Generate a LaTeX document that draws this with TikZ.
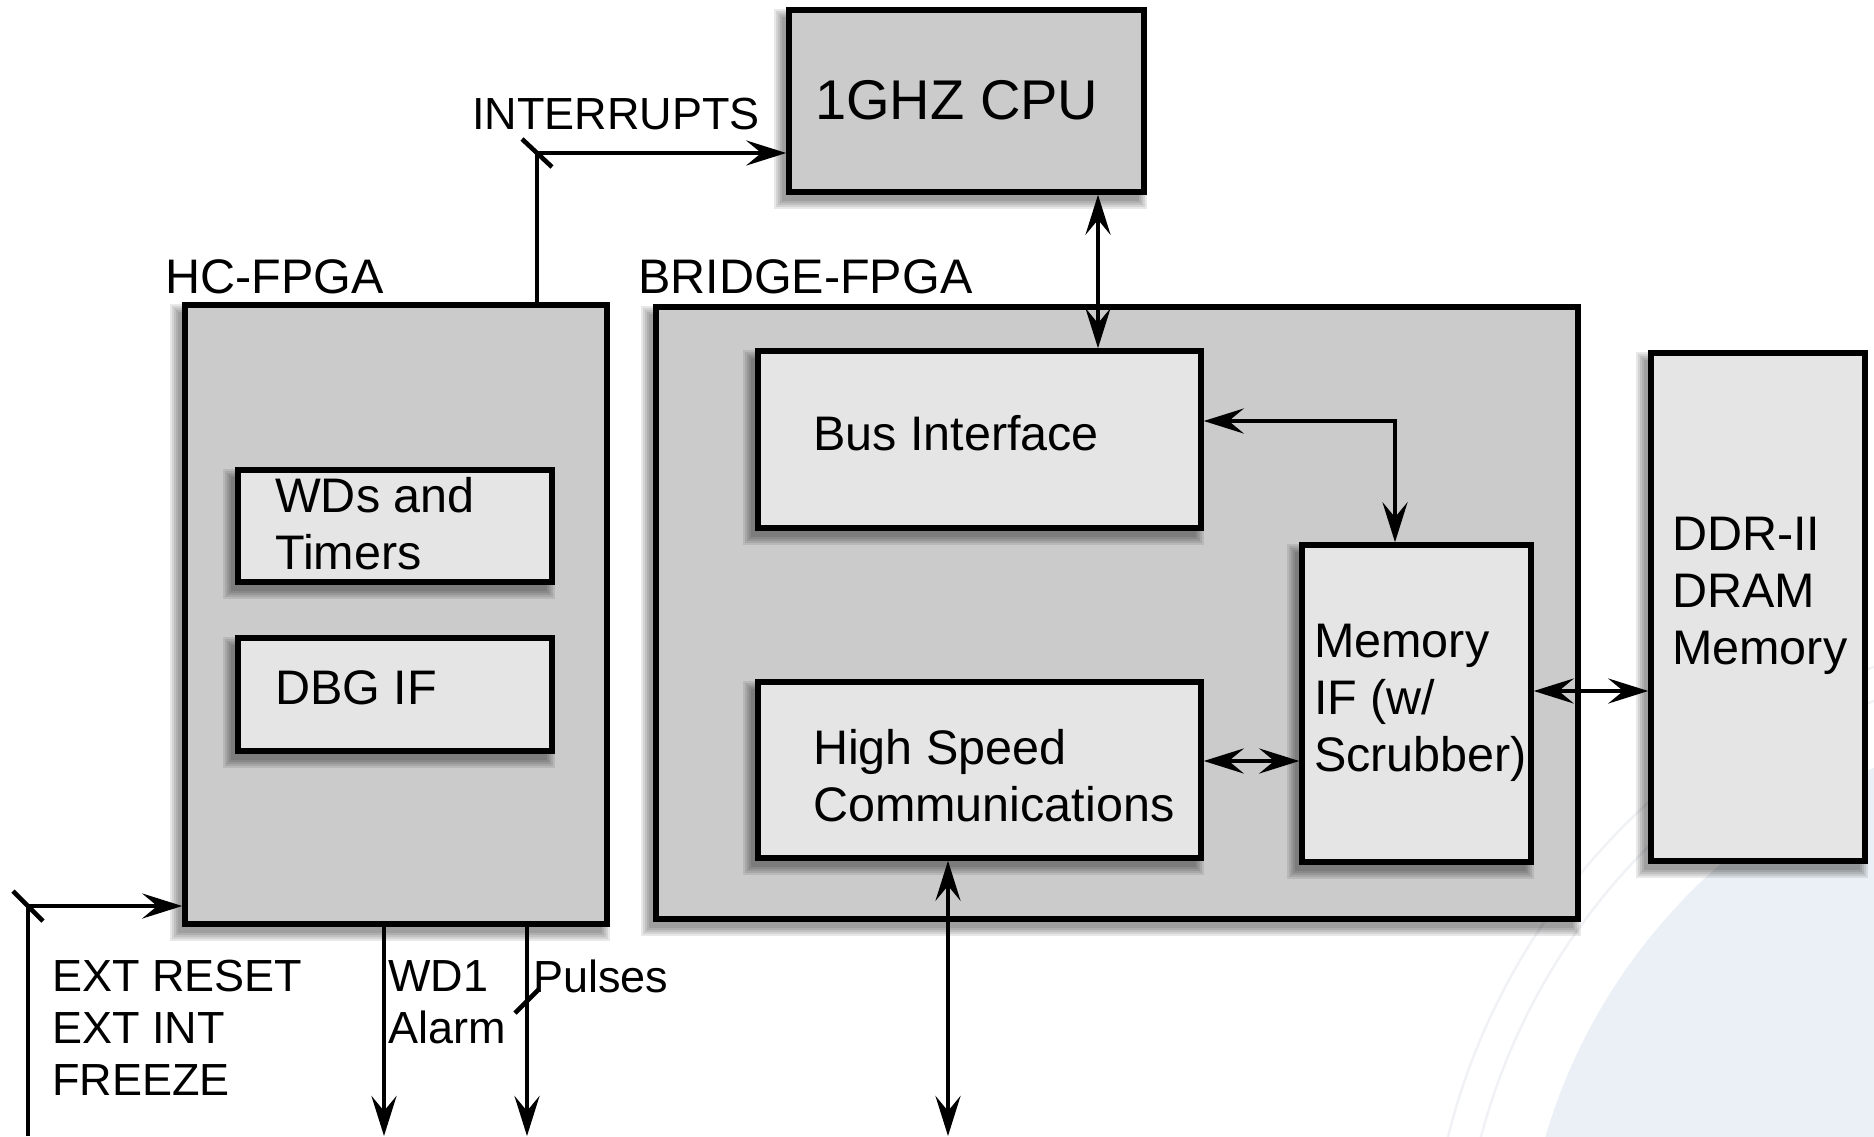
\documentclass[tikz,border=0pt]{standalone}
\usepackage{fontspec}
\setmainfont{Liberation Sans}
\usetikzlibrary{arrows.meta}
\definecolor{boxdark}{RGB}{203,203,203}
\definecolor{boxlight}{RGB}{229,229,229}
\definecolor{globefill}{RGB}{235,240,246}
\definecolor{globering}{RGB}{240,242,246}
% soft drop shadow: centre x, centre y, width, height
\newcommand\boxshade[4]{%
  \foreach \k in {1,3,5,7,9}{%
    \fill[black, opacity=0.09] ({#1-#3/2-6-\k},{#2-#4/2+8-\k}) rectangle ({#1+#3/2-6+\k},{#2+#4/2+8+\k});
  }}
\begin{document}
\begin{tikzpicture}[x=1pt,y=-1pt,
  >={Stealth[length=40pt,width=25pt,inset=15pt]},
  box/.style={draw=black, line width=5.5pt, rectangle, inner sep=0pt},
  outerbox/.style={box, fill=boxdark},
  innerbox/.style={box, fill=boxlight},
  wire/.style={line width=4.6pt},
  boxtxt/.style={inner sep=0pt, align=left, font=\fontsize{48.5}{57}\selectfont},
  sigtxt/.style={inner sep=0pt, align=left, font=\fontsize{45}{52}\selectfont},
  cputxt/.style={inner sep=0pt, font=\fontsize{56}{66}\selectfont}]
\useasboundingbox (0,0) rectangle (1874,1136);
% faint globe in the background
\begin{scope}
  \clip (0,0) rectangle (1874,1136);
  \fill[globefill] (2100,1300) circle[radius=578];
  \draw[globering, line width=2.5pt] (2100,1300) circle[radius=640];
  \draw[globering, line width=2.5pt] (2100,1300) circle[radius=672];
\end{scope}
% outer blocks
\boxshade{966.5}{101}{355}{182}
\boxshade{396}{614.5}{422}{619}
\boxshade{1117}{613}{922}{612}
\boxshade{1758}{607}{214}{508}
\node[outerbox, minimum width=355pt, minimum height=182pt] (cpu) at (966.5,101) {};
\node[outerbox, minimum width=422pt, minimum height=619pt] (hc) at (396,614.5) {};
\node[outerbox, minimum width=922pt, minimum height=612pt] (bridge) at (1117,613) {};
\node[innerbox, minimum width=214pt, minimum height=508pt] (ddr) at (1758,607) {};
% inner blocks
\boxshade{395}{526}{314}{112}
\boxshade{395}{694.5}{314}{113}
\boxshade{979.5}{439.5}{443}{177}
\boxshade{979.5}{770}{443}{176}
\boxshade{1416.5}{703.5}{229}{317}
\node[innerbox, minimum width=314pt, minimum height=112pt] (wds) at (395,526) {};
\node[innerbox, minimum width=314pt, minimum height=113pt] (dbg) at (395,694.5) {};
\node[innerbox, minimum width=443pt, minimum height=177pt] (bus) at (979.5,439.5) {};
\node[innerbox, minimum width=443pt, minimum height=176pt] (high) at (979.5,770) {};
\node[innerbox, minimum width=229pt, minimum height=317pt] (mem) at (1416.5,703.5) {};
% texts
\node[cputxt, anchor=west] (cpuT) at (815,100) {1GHZ CPU};
\node[sigtxt, anchor=base west] (intT) at (472,129) {INTERRUPTS};
\node[boxtxt, anchor=base west] (hcT) at (165,293) {HC-FPGA};
\node[boxtxt, anchor=base west] (brT) at (638,293) {BRIDGE-FPGA};
\node[boxtxt, anchor=west] (wdsT) at (275,524) {WDs and\\Timers};
\node[boxtxt, anchor=west] (dbgT) at (275,688) {DBG IF};
\node[boxtxt, anchor=west] (busT) at (813,433) {Bus Interface};
\node[boxtxt, anchor=west] (highT) at (813,776) {High Speed\\Communications};
\node[boxtxt, anchor=west] (memT) at (1314,703) {Memory\\IF (w/\\Scrubber)};
\node[boxtxt, anchor=west] (ddrT) at (1672,596) {DDR-II\\DRAM\\Memory};
\node[sigtxt, anchor=west] (extT) at (52,1028) {EXT RESET\\EXT INT\\FREEZE};
\node[sigtxt, anchor=west] (wdT) at (388,1002) {WD1\\Alarm};
\node[sigtxt, anchor=base west] (puT) at (533,992) {Pulses};
% connectors
\coordinate (intk) at (537,153);
\draw[wire,->] (intk |- hc.north) -- (intk) -- (intk -| cpu.west);
\draw[wire] ([shift={(-15,-14)}]intk) -- ([shift={(15,14)}]intk);
\coordinate (cb) at (1098,0);
\draw[wire,<->] (cb |- cpu.south) -- (cb |- bus.north);
\coordinate (bm) at (1395,421);
\draw[wire,<->] (bm -| bus.east) -- (bm) -- (bm |- mem.north);
\coordinate (hm) at (0,761);
\draw[wire,<->] (hm -| high.east) -- (hm -| mem.west);
\coordinate (md) at (0,691);
\draw[wire,<->] (md -| mem.east) -- (md -| ddr.west);
\coordinate (hb) at (948,1136);
\draw[wire,<->] (hb |- high.south) -- (hb);
\coordinate (eb) at (28,1136);
\coordinate (ek) at (28,906);
\draw[wire,->] (eb) -- (ek) -- (ek -| hc.west);
\draw[wire] ([shift={(-15,-15)}]ek) -- ([shift={(15,15)}]ek);
\coordinate (w1) at (384,1136);
\draw[wire,->] (w1 |- hc.south) -- (w1);
\coordinate (pu) at (527,1136);
\draw[wire,->] (pu |- hc.south) -- (pu);
\draw[wire] ([shift={(-12,12)}]pu |- 0,1001) -- ([shift={(12,-12)}]pu |- 0,1001);
\end{tikzpicture}
\end{document}
